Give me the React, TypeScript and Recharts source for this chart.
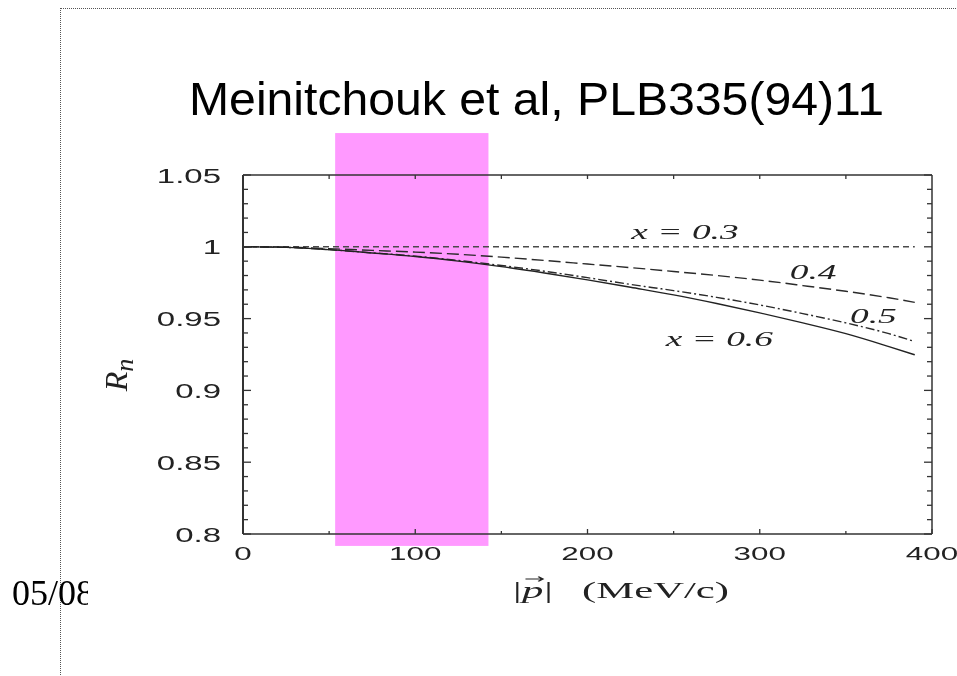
import { LineChart, Line, XAxis, YAxis, ReferenceArea, ReferenceDot } from 'recharts';

// |p| in MeV/c
const momentum = [0, 25, 50, 75, 100, 125, 150, 175, 200, 225, 250, 275, 300, 325, 350, 375, 390];
// R_n for each x curve
const ratioX03 = [1, 1, 1, 1, 1, 1, 1, 1, 1, 1, 1, 1, 1, 1, 1, 1, 1];
const ratioX04 = [1, 0.9998, 0.9987, 0.9975, 0.9963, 0.9948, 0.9928, 0.9905, 0.988, 0.9855, 0.9828, 0.98, 0.9768, 0.973, 0.969, 0.9645, 0.9613];
const ratioX05 = [1, 0.9996, 0.998, 0.9958, 0.9935, 0.9905, 0.987, 0.983, 0.9785, 0.9738, 0.9695, 0.9648, 0.9595, 0.9535, 0.947, 0.9395, 0.934];
const ratioX06 = [1, 0.9996, 0.998, 0.9957, 0.9932, 0.99, 0.9862, 0.9818, 0.977, 0.9718, 0.9665, 0.9605, 0.954, 0.947, 0.9395, 0.9305, 0.9248];

const xMajorTicks = [0, 100, 200, 300, 400];
const xTickLabels = ['0', '100', '200', '300', '400'];
const xMinorTicks = [50, 150, 250, 350];
const yMajorTicks = [0.8, 0.85, 0.9, 0.95, 1, 1.05];
const yTickLabels = ['0.8', '0.85', '0.9', '0.95', '1', '1.05'];
const yMinorTicks = [
  0.81, 0.82, 0.83, 0.84, 0.86, 0.87, 0.88, 0.89, 0.91, 0.92,
  0.93, 0.94, 0.96, 0.97, 0.98, 0.99, 1.01, 1.02, 1.03, 1.04,
];

const curveLabels = ['x = 0.3', '0.4', '0.5', 'x = 0.6'];
const curveLabelP = [256.6, 331, 366, 276.5];
const curveLabelR = [1.0056, 0.9778, 0.9472, 0.9306];

// highlighted momentum band
const bandP = [53.5, 142.5];
const bandR = [0.7917, 1.0792];

const data = momentum.map((p, i) => ({
  p,
  x03: ratioX03[i],
  x04: ratioX04[i],
  x05: ratioX05[i],
  x06: ratioX06[i],
}));

const xTicks = [...xMajorTicks, ...xMinorTicks].sort((a, b) => a - b);
const yTicks = [...yMajorTicks, ...yMinorTicks].sort((a, b) => a - b);

const SANS = '"Liberation Sans", Arial, sans-serif';
const SERIF = '"Liberation Serif", "DejaVu Serif", serif';
const AXIS = '#333';
const STRETCH = 1.65;

function labelFor(v: number, majors: number[], labels: string[]) {
  const i = majors.findIndex((m) => Math.abs(m - v) < 1e-6);
  return i >= 0 ? labels[i] : null;
}

function BottomTick({ x, y, payload }: any) {
  const label = labelFor(payload.value, xMajorTicks, xTickLabels);
  return (
    <g>
      <line x1={x} x2={x} y1={y} y2={y - (label ? 5 : 3)} stroke={AXIS} strokeWidth={1.3} />
      {label && (
        <text
          transform={`translate(${x},${y + 25.5}) scale(${STRETCH},1)`}
          textAnchor="middle"
          fontSize={19}
          fontFamily={SANS}
          fill="#222"
        >
          {label}
        </text>
      )}
    </g>
  );
}

function TopTick({ x, y, payload }: any) {
  if (payload.value === 0 || payload.value === 400) return <g />;
  return <line x1={x} x2={x} y1={y} y2={y + 4} stroke={AXIS} strokeWidth={1.3} />;
}

function LeftTick({ x, y, payload }: any) {
  const label = labelFor(payload.value, yMajorTicks, yTickLabels);
  return (
    <g>
      <line x1={x} x2={x + (label ? 8 : 5)} y1={y} y2={y} stroke={AXIS} strokeWidth={1.3} />
      {label && (
        <text
          transform={`translate(${x - 22},${y + 7.5}) scale(${STRETCH},1)`}
          textAnchor="end"
          fontSize={20}
          fontFamily={SANS}
          fill="#222"
        >
          {label}
        </text>
      )}
    </g>
  );
}

function RightTick({ x, y, payload }: any) {
  const label = labelFor(payload.value, yMajorTicks, yTickLabels);
  return <line x1={x} x2={x - (label ? 8 : 5)} y1={y} y2={y} stroke={AXIS} strokeWidth={1.3} />;
}

function CurveLabel({ cx, cy, text }: any) {
  return (
    <text
      transform={`translate(${cx},${cy}) scale(1.7,1)`}
      textAnchor="middle"
      fontSize={22}
      fontStyle="italic"
      fontFamily={SERIF}
      fill="#222"
    >
      {text}
    </text>
  );
}

export default function App() {
  return (
    <div style={{ position: 'absolute', left: 0, top: 0, width: 957, height: 676, background: '#fff', overflow: 'hidden' }}>
      <div
        style={{
          position: 'absolute',
          left: 60,
          top: 8,
          width: 897,
          height: 668,
          borderLeft: '1px dotted #555',
          borderTop: '1px dotted #555',
        }}
      />
      <svg width={957} height={676} style={{ position: 'absolute', left: 0, top: 0 }}>
        <defs>
          <clipPath id="dateClip">
            <rect x={0} y={560} width={88} height={60} />
          </clipPath>
        </defs>
        <text x={189} y={115} fontSize={46} fontFamily={SANS} fill="#000" textLength={695} lengthAdjust="spacingAndGlyphs">
          Meinitchouk et al, PLB335(94)11
        </text>
        <text x={12} y={605} fontSize={36} fontFamily={SERIF} fill="#000" clipPath="url(#dateClip)">
          05/08/2011
        </text>
      </svg>
      <div style={{ position: 'absolute', left: 0, top: 0 }}>
        <LineChart width={957} height={676} data={data} margin={{ top: 165, right: 15, bottom: 0, left: 0 }}>
          <XAxis
            xAxisId={0}
            dataKey="p"
            type="number"
            domain={[0, 400]}
            allowDataOverflow
            ticks={xTicks}
            interval={0}
            height={142}
            tickSize={0}
            tickMargin={0}
            tickLine={false}
            axisLine={{ stroke: AXIS, strokeWidth: 1.5 }}
            tick={(props: any) => <BottomTick {...props} />}
          />
          <XAxis
            xAxisId="top"
            orientation="top"
            dataKey="p"
            type="number"
            domain={[0, 400]}
            allowDataOverflow
            ticks={xTicks}
            interval={0}
            height={10}
            tickSize={0}
            tickMargin={0}
            tickLine={false}
            axisLine={{ stroke: AXIS, strokeWidth: 1.5 }}
            tick={(props: any) => <TopTick {...props} />}
          />
          <YAxis
            yAxisId={0}
            type="number"
            domain={[0.8, 1.05]}
            allowDataOverflow
            ticks={yTicks}
            interval={0}
            width={243}
            tickSize={0}
            tickMargin={0}
            tickLine={false}
            axisLine={{ stroke: AXIS, strokeWidth: 2 }}
            tick={(props: any) => <LeftTick {...props} />}
          />
          <YAxis
            yAxisId="right"
            orientation="right"
            type="number"
            domain={[0.8, 1.05]}
            allowDataOverflow
            ticks={yTicks}
            interval={0}
            width={10}
            tickSize={0}
            tickMargin={0}
            tickLine={false}
            axisLine={{ stroke: AXIS, strokeWidth: 1.5 }}
            tick={(props: any) => <RightTick {...props} />}
          />
          <Line dataKey="x03" type="monotone" stroke="#4a4a4a" strokeWidth={1.4} strokeDasharray="6 4" dot={false} isAnimationActive={false} />
          <Line dataKey="x04" type="monotone" stroke="#2a2a2a" strokeWidth={1.4} strokeDasharray="12 5" dot={false} isAnimationActive={false} />
          <Line dataKey="x05" type="monotone" stroke="#2a2a2a" strokeWidth={1.4} strokeDasharray="9 3 2 3" dot={false} isAnimationActive={false} />
          <Line dataKey="x06" type="monotone" stroke="#222" strokeWidth={1.4} dot={false} isAnimationActive={false} />
          {curveLabels.map((t, i) => (
            <ReferenceDot
              key={t}
              x={curveLabelP[i]}
              y={curveLabelR[i]}
              r={0}
              ifOverflow="visible"
              shape={(props: any) => <CurveLabel cx={props.cx} cy={props.cy} text={t} />}
            />
          ))}
          <ReferenceArea
            x1={bandP[0]}
            x2={bandP[1]}
            y1={bandR[0]}
            y2={bandR[1]}
            ifOverflow="visible"
            shape={(props: any) => (
              <rect
                x={props.x}
                y={props.y}
                width={props.width}
                height={props.height}
                fill="#ff99ff"
                style={{ mixBlendMode: 'multiply' }}
              />
            )}
          />
        </LineChart>
      </div>
      <svg width={957} height={676} style={{ position: 'absolute', left: 0, top: 0, pointerEvents: 'none' }}>
        <g transform="translate(513,598) scale(1.78,1)" fontFamily={SERIF} fontSize={24} fill="#222">
          <text x={0} y={0}>|</text>
          <text x={5} y={0} fontStyle="italic">p</text>
          <path d="M7 -19 H16.5 M14.2 -21.3 L16.8 -19 L14.2 -16.7" stroke="#222" strokeWidth={1.1} fill="none" />
          <text x={17.5} y={0}>|</text>
          <text x={38.8} y={0}>(MeV/c)</text>
        </g>
        <text
          transform="translate(127,375) rotate(-90)"
          textAnchor="middle"
          fontFamily={SERIF}
          fontStyle="italic"
          fontSize={32}
          fill="#222"
        >
          R<tspan fontSize={26} dy={6}>n</tspan>
        </text>
      </svg>
    </div>
  );
}
